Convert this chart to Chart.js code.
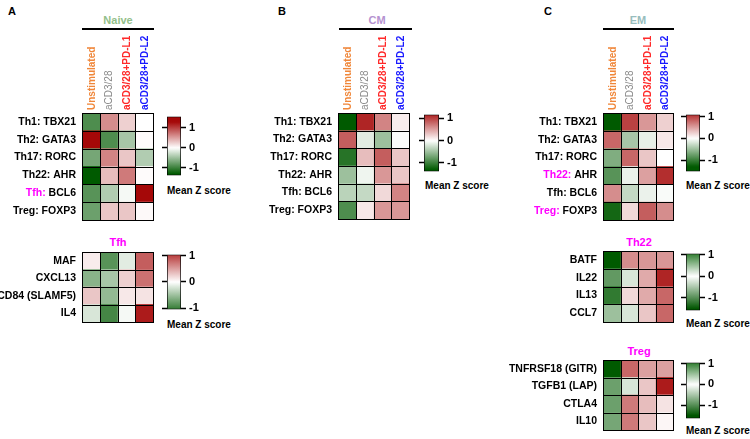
<!DOCTYPE html>
<html>
<head>
<meta charset="utf-8">
<script src="https://cdn.jsdelivr.net/npm/chart.js@4.4.1/dist/chart.umd.min.js"></script>
<style>
  body { margin: 0; background: #fff; font-family: "Liberation Sans", Arial, sans-serif; }
  #fig { position: relative; width: 750px; height: 439px; overflow: hidden; }
  #fig canvas { position: absolute; }
  .t { position: absolute; font-weight: bold; white-space: nowrap; line-height: 1; }
  .ttl { position: absolute; font-weight: bold; font-size: 11px; text-align: center; transform: translate(-50%, -50%); white-space: nowrap; }
  .rule { position: absolute; height: 2px; background: #000; }
  .mz { position: absolute; font-weight: bold; font-size: 10px; white-space: nowrap; transform: translateY(-50%); }
</style>
</head>
<body>
<div id="fig">
  <div class="t" style="left:8px;top:6px;font-size:11px">A</div>
  <div class="t" style="left:278px;top:6px;font-size:11px">B</div>
  <div class="t" style="left:544px;top:6px;font-size:11px">C</div>

  <div class="ttl" style="left:118px;top:20px;color:#93c08a">Naive</div>
  <div class="rule" style="left:82px;top:28px;width:72px"></div>
  <div class="ttl" style="left:377px;top:20px;color:#b592d0">CM</div>
  <div class="rule" style="left:339px;top:28px;width:73px"></div>
  <div class="ttl" style="left:638px;top:20px;color:#98bdbd">EM</div>
  <div class="rule" style="left:603px;top:28px;width:71px"></div>

  <div class="ttl" style="left:118px;top:242px;color:#ff00ff">Tfh</div>
  <div class="ttl" style="left:639px;top:242px;color:#ff00ff">Th22</div>
  <div class="ttl" style="left:639px;top:351px;color:#ff00ff">Treg</div>

  <div class="mz" style="left:167px;top:190px">Mean Z score</div>
  <div class="mz" style="left:167px;top:324px">Mean Z score</div>
  <div class="mz" style="left:425px;top:185px">Mean Z score</div>
  <div class="mz" style="left:686px;top:185px">Mean Z score</div>
  <div class="mz" style="left:686px;top:323px">Mean Z score</div>
  <div class="mz" style="left:686px;top:430px">Mean Z score</div>
</div>
<script>
var conditions = ["Unstimulated", "aCD3/28", "aCD3/28+PD-L1", "aCD3/28+PD-L2"];
var conditionColors = ["#f0873a", "#8a8a8a", "#ff2a2a", "#1a1aff"];
var conditionBold = [true, false, true, true];

var naiveGenes = ["Th1: TBX21", "Th2: GATA3", "Th17: RORC", "Th22: AHR", "Tfh: BCL6", "Treg: FOXP3"];
var naiveZ = [
  [-0.9, 0.6, 0.25, 0.0],
  [1.3, -0.9, -0.45, 0.02],
  [-0.7, 0.65, 0.3, -0.4],
  [-1.3, 0.35, 0.7, 0.02],
  [-0.85, -0.4, -0.05, 1.3],
  [-0.75, 0.3, 0.3, 0.03]
];
var naiveHighlight = ["Tfh"];

var tfhGenes = ["MAF", "CXCL13", "CD84 (SLAMF5)", "IL4"];
var tfhZ = [
  [0.1, -0.85, -0.15, 0.85],
  [-0.6, -0.45, 0.25, 0.75],
  [0.3, -0.55, 0.12, 0.15],
  [-0.2, -0.95, -0.05, 1.2]
];

var cmGenes = ["Th1: TBX21", "Th2: GATA3", "Th17: RORC", "Th22: AHR", "Tfh: BCL6", "Treg: FOXP3"];
var cmZ = [
  [-1.3, 1.15, 0.65, 0.1],
  [0.85, -0.15, -0.5, -0.02],
  [-1.1, 0.35, 0.85, 0.3],
  [-0.5, -0.08, 0.55, 0.3],
  [-0.35, -0.3, 0.2, 0.65],
  [-0.9, 0.12, 0.55, 0.55]
];

var emGenes = ["Th1: TBX21", "Th2: GATA3", "Th17: RORC", "Th22: AHR", "Tfh: BCL6", "Treg: FOXP3"];
var emZ = [
  [-1.3, 1.0, 0.55, 0.25],
  [0.8, -0.45, -0.12, 0.12],
  [-0.65, 0.8, 0.3, 0.0],
  [-0.85, -0.1, 0.5, 1.1],
  [0.6, -0.3, -0.1, -0.03],
  [-1.2, 0.2, 0.85, 0.6]
];
var emHighlight = ["Th22", "Treg"];

var th22Genes = ["BATF", "IL22", "IL13", "CCL7"];
var th22Z = [
  [-1.3, 0.6, 0.55, 0.55],
  [-0.8, -0.2, 0.45, 1.15],
  [-1.05, 0.2, 0.45, 0.8],
  [-0.5, -0.2, 0.3, 0.8]
];

var tregGenes = ["TNFRSF18 (GITR)", "TGFB1 (LAP)", "CTLA4", "IL10"];
var tregZ = [
  [-1.3, 0.8, 0.5, 0.5],
  [-0.75, -0.2, 0.3, 1.2],
  [-0.75, 0.7, 0.35, 0.15],
  [-0.7, 0.7, 0.3, 0.05]
];

var scaleTicks = [-1, 0, 1];

var FONT = '"Liberation Sans", Arial, sans-serif';
var WHITE = [255, 255, 255], RED = [165, 8, 8], GREEN = [0, 90, 0];

function mix(a, b, t) {
  return 'rgb(' + a.map(function(x, k) { return Math.round(x + (b[k] - x) * t); }).join(',') + ')';
}
function zColor(v) {
  var t = Math.max(-1, Math.min(1, v / 1.3));
  return t >= 0 ? mix(WHITE, RED, t) : mix(WHITE, GREEN, -t);
}
function greenColor(v) {
  return v >= 0 ? mix(WHITE, [55, 130, 55], Math.min(1, v)) : mix(WHITE, [0, 85, 0], Math.min(1, -v / 1.5));
}

function addCanvas(left, top, w, h) {
  var c = document.createElement('canvas');
  c.width = w; c.height = h;
  c.style.left = left + 'px'; c.style.top = top + 'px';
  c.style.width = w + 'px'; c.style.height = h + 'px';
  document.getElementById('fig').appendChild(c);
  return c;
}

var rowLabels = {
  id: 'rowLabels',
  afterDatasetsDraw: function(chart, args, opts) {
    var ctx = chart.ctx, xs = chart.scales.x, ys = chart.scales.y, a = chart.chartArea;
    var n = chart.data.labels.length;
    ctx.save();
    ctx.strokeStyle = '#000';
    ctx.lineWidth = 1;
    ctx.beginPath();
    for (var j = 0; j <= 4; j++) {
      var px = Math.round(xs.getPixelForValue(j)) + 0.5;
      ctx.moveTo(px, a.top); ctx.lineTo(px, a.bottom + 1);
    }
    for (var i = 0; i <= n; i++) {
      var py = Math.round(ys.getPixelForValue(i - 0.5)) + 0.5;
      ctx.moveTo(a.left, py); ctx.lineTo(a.right + 1, py);
    }
    ctx.stroke();

    ctx.font = 'bold 10.5px ' + FONT;
    ctx.textBaseline = 'middle';
    ctx.textAlign = 'right';
    chart.data.labels.forEach(function(lab, i) {
      var y = ys.getPixelForValue(i);
      var x = a.left - 6;
      var k = lab.indexOf(':');
      if (k > 0 && opts.highlight.indexOf(lab.slice(0, k)) >= 0) {
        var rest = lab.slice(k + 1);
        ctx.fillStyle = '#000';
        ctx.fillText(rest, x, y);
        ctx.fillStyle = '#ff00ff';
        ctx.fillText(lab.slice(0, k + 1), x - ctx.measureText(rest).width, y);
      } else {
        ctx.fillStyle = '#000';
        ctx.fillText(lab, x, y);
      }
    });
    ctx.restore();
  }
};

function heatmap(left, top, w, h, labelW, genes, z, highlight, showCols) {
  var colH = showCols ? 90 : 0;
  var canvas = addCanvas(left - labelW, top - colH, labelW + w + 2, colH + h + 2);
  var datasets = conditions.map(function(c, j) {
    return {
      label: c,
      data: genes.map(function() { return [j, j + 1]; }),
      backgroundColor: genes.map(function(g, i) { return zColor(z[i][j]); }),
      borderWidth: 0,
      grouped: false,
      barPercentage: 1,
      categoryPercentage: 1
    };
  });
  return new Chart(canvas, {
    type: 'bar',
    data: { labels: genes, datasets: datasets },
    options: {
      indexAxis: 'y',
      responsive: false,
      animation: false,
      devicePixelRatio: 1,
      events: [],
      layout: { padding: { right: 2, bottom: 2, top: 0, left: 0 } },
      plugins: { legend: { display: false }, tooltip: { enabled: false }, rowLabels: { highlight: highlight } },
      scales: {
        x: { type: 'linear', min: 0, max: 4, display: false },
        y: {
          type: 'category', offset: true,
          grid: { display: false, drawTicks: false }, border: { display: false },
          ticks: { display: false },
          afterFit: function(s) { s.width = labelW; }
        },
        top: {
          type: 'category', axis: 'x', position: 'top', labels: conditions, offset: true,
          display: showCols,
          grid: { display: false, drawTicks: false }, border: { display: false },
          ticks: {
            autoSkip: false, minRotation: 90, maxRotation: 90, padding: 3, labelOffset: 13,
            color: function(c) { return conditionColors[c.index]; },
            font: function(c) { return { family: FONT, size: 10, weight: conditionBold[c.index] ? 'bold' : 'normal' }; }
          },
          afterFit: function(s) { s.height = colH; }
        }
      }
    },
    plugins: [rowLabels]
  });
}

function colorbar(left, top, w, h, min, max, cmap) {
  var canvas = addCanvas(left - 7, top - 8, 7 + w + 26, h + 16);
  var tickFn = function(s) { s.ticks = scaleTicks.map(function(v) { return { value: v }; }); };
  return new Chart(canvas, {
    type: 'bar',
    data: {
      labels: [''],
      datasets: [{
        data: [[min, max]],
        backgroundColor: function(c) {
          var a = c.chart.chartArea;
          if (!a) return '#fff';
          var g = c.chart.ctx.createLinearGradient(0, a.bottom, 0, a.top);
          for (var k = 0; k <= 40; k++) {
            var v = min + (max - min) * k / 40;
            g.addColorStop(k / 40, cmap(v));
          }
          return g;
        },
        borderColor: '#000', borderWidth: 1, borderSkipped: false,
        barPercentage: 1, categoryPercentage: 1
      }]
    },
    options: {
      responsive: false,
      animation: false,
      devicePixelRatio: 1,
      events: [],
      layout: { padding: { top: 8, bottom: 8 } },
      plugins: { legend: { display: false }, tooltip: { enabled: false } },
      scales: {
        x: { display: false },
        y: {
          position: 'right', min: min, max: max, afterBuildTicks: tickFn,
          grid: { drawOnChartArea: false, tickLength: 5, tickColor: '#000', tickWidth: 1.5 },
          border: { display: false },
          ticks: { color: '#000', padding: 3, font: { family: FONT, size: 11, weight: 'bold' } },
          afterFit: function(s) { s.width = 26; }
        },
        yl: {
          position: 'left', min: min, max: max, afterBuildTicks: tickFn,
          grid: { drawOnChartArea: false, tickLength: 5, tickColor: '#000', tickWidth: 1.5 },
          border: { display: false },
          ticks: { display: false },
          afterFit: function(s) { s.width = 7; }
        }
      }
    }
  });
}

heatmap(82, 113, 71, 107, 82, naiveGenes, naiveZ, naiveHighlight, true);
heatmap(82, 252, 71, 70, 82, tfhGenes, tfhZ, [], false);
heatmap(338, 113, 71, 106, 100, cmGenes, cmZ, [], true);
heatmap(603, 113, 70, 107, 100, emGenes, emZ, emHighlight, true);
heatmap(603, 251, 70, 71, 100, th22Genes, th22Z, [], false);
heatmap(603, 360, 70, 70, 100, tregGenes, tregZ, [], false);

colorbar(167, 115, 14, 62, -1.38, 1.57, zColor);
colorbar(167, 253, 14, 58, -1.04, 1.04, zColor);
colorbar(424, 113, 15, 60, -1.38, 1.17, zColor);
colorbar(686, 113, 14, 60, -1.52, 1.09, zColor);
colorbar(686, 252, 14, 60, -1.57, 1.04, greenColor);
colorbar(686, 361, 14, 59, -1.64, 1.05, greenColor);
</script>
</body>
</html>
